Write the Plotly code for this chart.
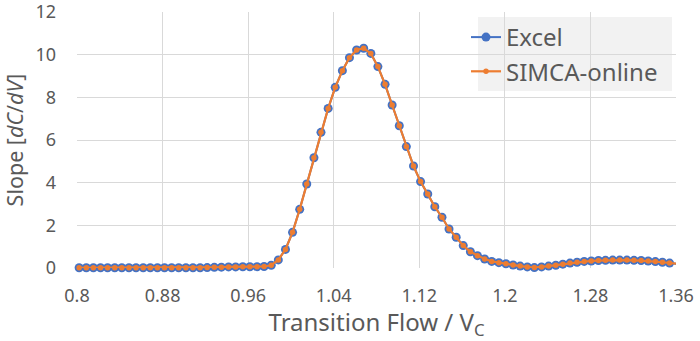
import plotly.graph_objects as go

flow = [0.8020, 0.8087, 0.8153, 0.8220, 0.8286, 0.8353, 0.8419, 0.8486, 0.8552, 0.8619,
        0.8685, 0.8752, 0.8818, 0.8885, 0.8951, 0.9018, 0.9084, 0.9151, 0.9217, 0.9284,
        0.9350, 0.9417, 0.9483, 0.9550, 0.9616, 0.9683, 0.9749, 0.9816, 0.9882, 0.9949,
        1.0015, 1.0082, 1.0148, 1.0215, 1.0281, 1.0348, 1.0414, 1.0481, 1.0547, 1.0614,
        1.0680, 1.0747, 1.0813, 1.0880, 1.0946, 1.1013, 1.1079, 1.1146, 1.1212, 1.1279,
        1.1345, 1.1412, 1.1478, 1.1545, 1.1611, 1.1678, 1.1744, 1.1811, 1.1877, 1.1944,
        1.2010, 1.2077, 1.2143, 1.2210, 1.2276, 1.2343, 1.2409, 1.2476, 1.2542, 1.2609,
        1.2675, 1.2742, 1.2808, 1.2875, 1.2941, 1.3008, 1.3074, 1.3141, 1.3207, 1.3274,
        1.3340, 1.3407, 1.3473, 1.3540, 1.3606]

excel_slope = [0.01, 0.01, 0.01, 0.01, 0.01, 0.01, 0.01, 0.01, 0.01, 0.01,
               0.01, 0.01, 0.01, 0.01, 0.01, 0.01, 0.01, 0.01, 0.02, 0.03,
               0.04, 0.05, 0.05, 0.06, 0.06, 0.06, 0.07, 0.13, 0.38, 0.87,
               1.67, 2.75, 3.94, 5.17, 6.36, 7.48, 8.47, 9.25, 9.86, 10.22,
               10.30, 10.06, 9.44, 8.61, 7.64, 6.67, 5.69, 4.78, 4.05, 3.47,
               2.87, 2.38, 1.83, 1.44, 1.05, 0.76, 0.58, 0.42, 0.31, 0.25,
               0.20, 0.14, 0.09, 0.05, 0.02, 0.05, 0.09, 0.13, 0.18, 0.23,
               0.27, 0.31, 0.33, 0.35, 0.36, 0.37, 0.37, 0.37, 0.36, 0.35,
               0.33, 0.30, 0.27, 0.23, 0.20]

simca_slope = list(excel_slope)

x_ticks = [0.8, 0.88, 0.96, 1.04, 1.12, 1.2, 1.28, 1.36]
x_tick_text = ["0.8", "0.88", "0.96", "1.04", "1.12", "1.2", "1.28", "1.36"]
y_ticks = [0, 2, 4, 6, 8, 10, 12]

FONT = "Noto Sans"
GREY = "#595959"

fig = go.Figure()
fig.add_trace(go.Scatter(
    x=flow, y=excel_slope, name="Excel", mode="lines+markers",
    line=dict(color="#4472C4", width=2),
    marker=dict(color="#4472C4", size=9),
    cliponaxis=False,
))
fig.add_trace(go.Scatter(
    x=flow, y=simca_slope, name="SIMCA-online", mode="lines+markers",
    line=dict(color="#ED7D31", width=2.2),
    marker=dict(color="#ED7D31", size=5.5),
    cliponaxis=False,
))

# legend background box (Excel-style light grey panel)
fig.add_shape(type="rect", xref="paper", yref="paper",
              x0=(478 - 77) / 599, x1=(672 - 77) / 599,
              y0=(268 - 91) / 256, y1=(268 - 17) / 256,
              fillcolor="#f2f2f2", line=dict(width=0), layer="below")

fig.update_layout(
    width=700, height=341,
    margin=dict(l=77, r=24, t=12, b=73),
    paper_bgcolor="white", plot_bgcolor="white",
    font=dict(family=FONT, color=GREY, size=17),
    showlegend=True,
    legend=dict(
        x=(466 - 77) / 599, y=(268 - 15) / 256, xanchor="left", yanchor="top",
        bgcolor="rgba(0,0,0,0)", font=dict(size=24, color=GREY),
        itemwidth=30, tracegroupgap=0,
    ),
    xaxis=dict(
        range=[0.8, 1.36], tickvals=x_ticks, ticktext=x_tick_text,
        showgrid=True, gridcolor="#d9d9d9", gridwidth=1,
        zeroline=False, showline=False, automargin=False,
        ticklabelstandoff=15, ticklabeloverflow="allow",
        tickfont=dict(size=18, color=GREY),
        title=dict(text="Transition Flow / V<sub>C</sub>", font=dict(size=24, color=GREY), standoff=3),
    ),
    yaxis=dict(
        range=[0, 12], tickvals=y_ticks,
        showgrid=True, gridcolor="#d9d9d9", gridwidth=1,
        zeroline=False, showline=False, automargin=False,
        ticklabelstandoff=20, ticklabeloverflow="allow",
        tickfont=dict(size=18, color=GREY),
        title=dict(text="Slope [<i>dC</i>/<i>dV</i>]", font=dict(size=21.5, color=GREY), standoff=6),
    ),
)

fig.write_html("out.html")
